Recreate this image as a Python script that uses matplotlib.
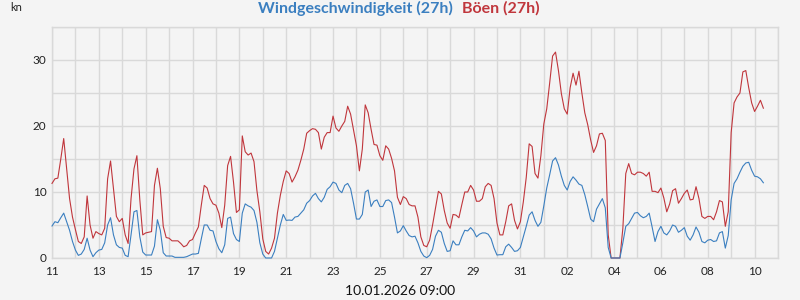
import matplotlib
matplotlib.use("Agg")
import matplotlib.pyplot as plt
import matplotlib.dates as mdates
import pandas as pd
from matplotlib.ticker import MultipleLocator

plt.rcParams["font.family"] = ["Lato", "DejaVu Sans"]
BG, GRID = "#f4f4f4", "#d9d9d9"
BLUE, RED = "#3b7fc0", "#c0363c"

# 3-hourly values from 11.12.2025 00:00 to 10.01.2026 09:00 (kn)
wind = [
    4.85, 5.5, 5.35, 6.1, 6.8, 5.5, 4.2, 2.5,
    1.2, 0.4, 0.6, 1.3, 3.0, 1.2, 0.2, 0.8,
    1.2, 1.3, 2.3, 5.0, 6.1, 3.5, 2.0, 1.6,
    1.5, 0.4, 0.2, 3.5, 7.0, 7.2, 3.2, 0.9,
    0.45, 0.45, 0.45, 1.8, 5.8, 4.2, 0.8, 0.3,
    0.3, 0.3, 0.1, 0.1, 0.1, 0.1, 0.2, 0.4,
    0.6, 0.6, 0.7, 2.9, 5.0, 5.0, 4.2, 4.1,
    2.5, 1.4, 0.8, 2.0, 6.0, 6.2, 3.7, 2.8,
    2.5, 6.8, 8.2, 7.9, 7.7, 7.2, 5.4, 2.3,
    0.6, 0.0, 0.0, 0.0, 1.0, 3.0, 5.0, 6.6,
    5.7, 5.75, 5.7, 6.2, 6.3, 6.8, 7.3, 8.3,
    8.7, 9.4, 9.8, 9.0, 8.5, 9.2, 10.4, 10.8,
    11.5, 11.3, 10.3, 9.9, 11.0, 11.3, 10.5, 8.3,
    5.9, 5.9, 6.6, 10.0, 10.3, 7.8, 8.6, 8.8,
    7.8, 7.8, 8.7, 8.8, 8.4, 6.2, 3.8, 4.1,
    4.9, 4.1, 3.4, 3.2, 3.3, 2.3, 1.0, 0.3,
    0.05, 0.4, 1.3, 3.3, 4.2, 3.9, 2.2, 1.0,
    1.1, 2.6, 2.0, 2.0, 3.2, 4.2, 4.1, 4.6,
    4.1, 3.2, 3.6, 3.8, 3.8, 3.6, 2.9, 1.5,
    0.45, 0.5, 0.5, 1.7, 2.1, 1.6, 1.0, 1.1,
    1.6, 3.2, 4.8, 6.5, 7.0, 5.7, 4.8, 5.4,
    7.9, 10.6, 12.6, 14.7, 15.2, 14.1, 12.4, 11.0,
    10.3, 11.6, 12.3, 11.8, 11.2, 11.0, 9.6, 7.8,
    5.9, 5.5, 7.4, 8.2, 9.0, 7.6, 1.6, 0.0,
    0.0, 0.0, 0.0, 2.3, 4.8, 5.2, 6.0, 6.8,
    6.9, 6.4, 6.1, 6.3, 6.8, 4.7, 2.5, 4.0,
    4.8, 3.8, 3.5, 4.1, 5.0, 4.8, 3.9, 4.2,
    4.6, 3.3, 2.7, 3.5, 4.7, 3.9, 2.5, 2.3,
    2.7, 2.8, 2.5, 2.6, 3.8, 4.0, 1.5, 3.4,
    8.8, 11.3, 12.0, 13.0, 13.9, 14.4, 14.5, 13.3,
    12.4, 12.3, 12.0, 11.4,
]
gust = [
    11.3, 12.0, 12.1, 15.0, 18.1, 13.5, 9.0, 6.2,
    4.3, 2.5, 2.2, 3.2, 9.4, 5.0, 3.0, 4.0,
    3.7, 3.5, 4.5, 12.0, 14.7, 10.5, 6.3, 5.5,
    6.0, 3.5, 2.2, 9.0, 13.5, 15.5, 8.8, 3.5,
    3.8, 3.9, 4.0, 11.0, 13.6, 10.5, 4.8, 3.1,
    3.0, 2.6, 2.6, 2.6, 2.2, 1.7, 1.9, 2.6,
    2.8, 3.8, 4.7, 8.0, 11.0, 10.6, 9.0, 8.2,
    8.0, 6.8, 4.6, 8.0, 14.0, 15.4, 11.5, 6.9,
    7.3, 18.5, 16.1, 15.6, 15.9, 14.6, 10.2, 7.0,
    2.9, 1.0, 0.6, 1.5, 3.0, 6.8, 9.5, 11.6,
    13.2, 12.8, 11.5, 12.3, 13.3, 14.8, 16.5, 18.9,
    19.3, 19.6, 19.5, 19.0, 16.5, 18.3, 19.0, 19.0,
    21.5, 19.7, 19.2, 20.0, 20.7, 23.0, 21.8, 19.4,
    17.0, 13.2, 16.5, 23.2, 22.0, 19.5, 17.2, 17.1,
    15.5, 14.8, 17.0, 16.5, 15.1, 13.2, 9.2, 8.1,
    9.3, 9.0, 8.1, 7.9, 7.9, 6.2, 3.2, 1.9,
    1.7, 2.7, 5.0, 7.6, 10.1, 9.7, 7.2, 5.3,
    4.5, 6.6, 6.5, 6.1, 8.1, 10.0, 10.0, 11.0,
    10.3, 8.6, 8.6, 9.0, 10.8, 11.3, 11.0, 9.0,
    5.3, 3.5, 3.5, 5.5, 7.9, 8.2, 5.7, 4.4,
    5.5, 8.5, 12.2, 17.3, 16.9, 12.8, 12.1, 15.5,
    20.3, 22.6, 26.5, 30.6, 31.2, 28.4, 24.9, 22.6,
    21.8, 25.8, 28.0, 26.2, 28.3, 25.0, 22.0, 20.2,
    17.9, 16.0, 17.0, 18.8, 18.9, 17.8, 3.5, 0.0,
    0.0, 0.0, 0.0, 4.5, 12.8, 14.3, 12.8, 12.6,
    13.0, 13.0, 12.8, 12.4, 13.0, 10.1, 10.1, 9.9,
    10.6, 9.1, 7.0, 8.2, 10.2, 10.5, 8.3, 9.0,
    9.8, 10.3, 8.8, 8.9, 10.8, 9.0, 6.3, 6.0,
    6.3, 6.3, 5.8, 7.0, 8.7, 8.5, 4.8, 7.0,
    19.0, 23.5, 24.4, 25.0, 28.2, 28.4, 25.8, 23.5,
    22.2, 23.0, 23.9, 22.7,
]
times = pd.date_range("2025-12-11 00:00", periods=len(wind), freq="3h")
x_start, x_end = pd.Timestamp("2025-12-11"), pd.Timestamp("2026-01-11")

fig = plt.figure(figsize=(8, 3), dpi=100, facecolor=BG)
ax = fig.add_axes([0.065, 0.14, 0.9075, 0.77], facecolor=BG)

ax.plot(times, gust, color=RED, lw=0.8, clip_on=False, zorder=3)
ax.plot(times, wind, color=BLUE, lw=0.8, clip_on=False, zorder=4)

ax.set_xlim(x_start, x_end)
ax.set_ylim(0, 35)
ax.xaxis.set_major_locator(mdates.DayLocator(interval=2))
ax.xaxis.set_minor_locator(mdates.DayLocator())
ax.xaxis.set_major_formatter(mdates.DateFormatter("%d"))
ax.yaxis.set_major_locator(MultipleLocator(10))
ax.yaxis.set_minor_locator(MultipleLocator(5))
ax.grid(which="both", color=GRID, lw=1)
ax.set_axisbelow(True)
for s in ax.spines.values():
    s.set_color(GRID); s.set_linewidth(1)
ax.tick_params(which="both", length=0, labelsize=8.5, colors="#222222")
ax.tick_params(axis="x", pad=6)
ax.tick_params(axis="y", pad=4)

fig.text(0.0125, 0.975, "kn", fontsize=8, va="center", ha="left", color="#222222")
fig.text(0.566, 0.972, "Windgeschwindigkeit (27h)", fontsize=11.5, fontweight="bold",
         color=BLUE, ha="right", va="center")
fig.text(0.5775, 0.972, "Böen (27h)", fontsize=11.5, fontweight="bold", color=RED,
         ha="left", va="center")
fig.text(0.5, 0.03, "10.01.2026 09:00", fontsize=10, ha="center", va="center", color="#111111")

fig.savefig("out.png", dpi=100, facecolor=BG)
